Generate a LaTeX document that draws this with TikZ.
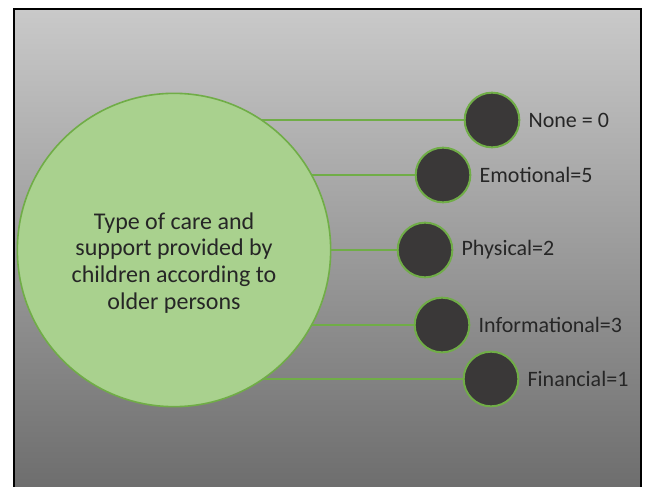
\documentclass[tikz,border=0pt]{standalone}
\usepackage{fontspec}
\setmainfont{Carlito}
\definecolor{bgtop}{HTML}{C9C9C9}
\definecolor{bgbot}{HTML}{6E6E6E}
\definecolor{bigfill}{HTML}{A9D18E}
\definecolor{greenline}{HTML}{70AD47}
\definecolor{darkfill}{HTML}{3A3838}
\definecolor{txt}{HTML}{262626}
\pgfdeclarelayer{bg}
\pgfdeclarelayer{lines}
\pgfsetlayers{bg,lines,main}
\tikzset{
  bigcircle/.style={circle, draw=greenline, line width=1.2, fill=bigfill, minimum size=235pt, inner sep=0},
  bigtext/.style={align=center, text=txt, font=\fontsize{18}{20}\selectfont, inner sep=0},
  dot/.style={circle, draw=greenline, line width=1.5, fill=darkfill, minimum size=41pt, inner sep=0},
  lbl/.style={anchor=west, text=txt, font=\fontsize{16.5}{19}\selectfont, inner sep=0},
  conn/.style={draw=greenline, line width=1.5}
}
\begin{document}
\begin{tikzpicture}[x=0.75pt,y=0.75pt]
\useasboundingbox (0,0) rectangle (645,486);
\begin{pgfonlayer}{bg}
\shade[top color=bgtop, bottom color=bgbot] (14,0) rectangle (641,476.5);
\draw[black, line width=1.5] (14,-3) -- (14,476.5) -- (641,476.5) -- (641,-3);
\end{pgfonlayer}
\node[bigcircle] (big) at (174,236) {};
\node[bigtext] (bt) at ([yshift=-9.5pt]big.center) {Type of care and\\support provided by\\children according to\\older persons};
\node[dot] (n1) at (492,366) {};
\node[dot] (n2) at (443,311) {};
\node[dot] (n3) at (425,236) {};
\node[dot] (n4) at (442,161) {};
\node[dot] (n5) at (491,107) {};
\node[lbl] (l1) at ([xshift=6pt]n1.east) {None = 0};
\node[lbl] (l2) at ([xshift=6pt]n2.east) {Emotional=5};
\node[lbl] (l3) at ([xshift=6pt]n3.east) {Physical=2};
\node[lbl] (l4) at ([xshift=6pt]n4.east) {Informational=3};
\node[lbl] (l5) at ([xshift=6pt]n5.east) {Financial=1};
\begin{pgfonlayer}{lines}
\foreach \n in {n1,n2,n3,n4,n5}
  \draw[conn] (big.center |- \n.west) -- (\n.west);
\end{pgfonlayer}
\end{tikzpicture}
\end{document}
